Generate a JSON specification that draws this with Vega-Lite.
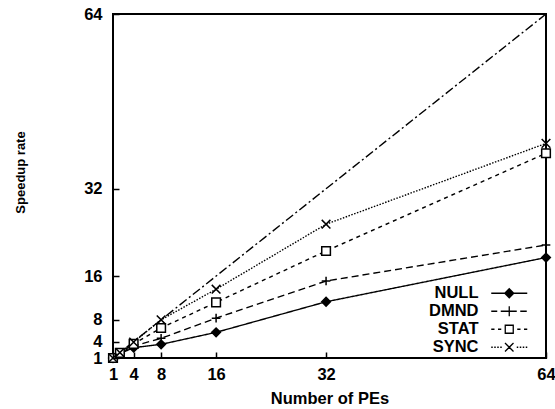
{
  "$schema": "https://vega.github.io/schema/vega-lite/v6.json",
  "width": 433,
  "height": 344,
  "autosize": {"type": "none"},
  "padding": {"left": 113, "top": 14, "right": 9, "bottom": 51},
  "background": "white",
  "datasets": {
    "ideal": [
      {"pes": 1, "speedup": 1},
      {"pes": 64, "speedup": 64}
    ],
    "runs": [
      {"scheme": "NULL", "pes": 1, "speedup": 1},
      {"scheme": "NULL", "pes": 2, "speedup": 1.8},
      {"scheme": "NULL", "pes": 4, "speedup": 2.9},
      {"scheme": "NULL", "pes": 8, "speedup": 3.5},
      {"scheme": "NULL", "pes": 16, "speedup": 5.7},
      {"scheme": "NULL", "pes": 32, "speedup": 11.3},
      {"scheme": "NULL", "pes": 64, "speedup": 19.4},
      {"scheme": "DMND", "pes": 1, "speedup": 1},
      {"scheme": "DMND", "pes": 2, "speedup": 1.9},
      {"scheme": "DMND", "pes": 4, "speedup": 3.2},
      {"scheme": "DMND", "pes": 8, "speedup": 4.6},
      {"scheme": "DMND", "pes": 16, "speedup": 8.3},
      {"scheme": "DMND", "pes": 32, "speedup": 15.1},
      {"scheme": "DMND", "pes": 64, "speedup": 21.7},
      {"scheme": "STAT", "pes": 1, "speedup": 1},
      {"scheme": "STAT", "pes": 2, "speedup": 1.95},
      {"scheme": "STAT", "pes": 4, "speedup": 3.6},
      {"scheme": "STAT", "pes": 8, "speedup": 6.5},
      {"scheme": "STAT", "pes": 16, "speedup": 11.2},
      {"scheme": "STAT", "pes": 32, "speedup": 20.6},
      {"scheme": "STAT", "pes": 64, "speedup": 38.5},
      {"scheme": "SYNC", "pes": 1, "speedup": 1},
      {"scheme": "SYNC", "pes": 2, "speedup": 2},
      {"scheme": "SYNC", "pes": 4, "speedup": 3.9},
      {"scheme": "SYNC", "pes": 8, "speedup": 8.0},
      {"scheme": "SYNC", "pes": 16, "speedup": 13.6},
      {"scheme": "SYNC", "pes": 32, "speedup": 25.5},
      {"scheme": "SYNC", "pes": 64, "speedup": 40.3}
    ]
  },
  "layer": [
    {
      "data": {"name": "ideal"},
      "mark": {"type": "line", "color": "black", "strokeWidth": 1.4, "strokeDash": [9, 3, 2, 3]},
      "encoding": {
        "x": {
          "field": "pes", "type": "quantitative",
          "scale": {"domain": [1, 64], "nice": false, "zero": false},
          "axis": {
            "orient": "bottom", "values": [1, 4, 8, 16, 32, 64],
            "ticks": true, "tickSize": -6, "tickColor": "black", "tickWidth": 1.5, "zindex": 3,
            "title": "Number of PEs", "titleFontSize": 16.5,
            "titleY": 40, "titleBaseline": "middle",
            "labelFontSize": 16.5, "labelPadding": 14.5, "labelBaseline": "top"
          }
        },
        "y": {
          "field": "speedup", "type": "quantitative",
          "scale": {"domain": [1, 64], "nice": false, "zero": false},
          "axis": {
            "orient": "left", "values": [1, 4, 8, 16, 32, 64],
            "ticks": true, "tickSize": -6, "tickColor": "black", "tickWidth": 1.5, "zindex": 3,
            "title": "Speedup rate", "titleFontSize": 13,
            "titleX": -93, "titleY": 158, "titleAngle": -90,
            "titleAlign": "center", "titleBaseline": "middle",
            "labelFontSize": 16.5, "labelPadding": 17
          }
        }
      }
    },
    {
      "data": {"name": "runs"},
      "mark": {"type": "line", "color": "black", "strokeWidth": 1.4},
      "encoding": {
        "x": {"field": "pes", "type": "quantitative"},
        "y": {"field": "speedup", "type": "quantitative"},
        "detail": {"field": "scheme"},
        "strokeDash": {
          "field": "scheme", "type": "nominal",
          "scale": {"domain": ["NULL", "DMND", "STAT", "SYNC"], "range": [[1, 0], [7, 4], [4, 4], [1.5, 1.5]]},
          "legend": null
        }
      }
    },
    {
      "data": {"name": "runs"},
      "mark": {"type": "point", "stroke": "black", "strokeWidth": 1.5, "opacity": 1},
      "encoding": {
        "x": {"field": "pes", "type": "quantitative"},
        "y": {"field": "speedup", "type": "quantitative"},
        "shape": {
          "field": "scheme", "type": "nominal",
          "scale": {
            "domain": ["NULL", "DMND", "STAT", "SYNC"],
            "range": ["diamond", "M-1,0H1M0,-1V1", "square", "M-1,-1L1,1M-1,1L1,-1"]
          },
          "legend": null
        },
        "fill": {
          "field": "scheme", "type": "nominal",
          "scale": {"domain": ["NULL", "DMND", "STAT", "SYNC"], "range": ["black", "transparent", "white", "transparent"]},
          "legend": null
        },
        "size": {"value": 75}
      }
    },
    {
      "data": {"name": "runs"},
      "mark": {"type": "point", "color": "black", "strokeWidth": 1.3, "size": 0, "filled": false},
      "encoding": {
        "x": {"field": "pes", "type": "quantitative"},
        "y": {"field": "speedup", "type": "quantitative"},
        "shape": {
          "field": "scheme", "type": "nominal",
          "scale": {
            "domain": ["NULL", "DMND", "STAT", "SYNC"],
            "range": [
              "M-3.6,0H3.6M0,-0.9L0.9,0L0,0.9L-0.9,0ZM0,-0.55L0.55,0L0,0.55L-0.55,0ZM0,-0.22L0.22,0L0,0.22L-0.22,0Z",
              "M-3.6,0H-2.4M-1.7,0H1.5M2.2,0H3.5M0,-1V1",
              "M-3.6,0H-2.95M-2.25,0H-1.6M-0.8,-0.8H0.8V0.8H-0.8ZM1.6,0H2.25M2.95,0H3.6",
              "M-3.6,0H-3.3M-3,0H-2.7M-2.4,0H-2.1M-1.8,0H-1.5M1.5,0H1.8M2.1,0H2.4M2.7,0H3M3.3,0H3.6M-0.85,-0.85L0.85,0.85M-0.85,0.85L0.85,-0.85"
            ]
          },
          "legend": {
            "orient": "none", "legendX": 388, "legendY": 271,
            "title": null, "padding": 0,
            "symbolSize": 100, "symbolStrokeWidth": 1.3,
            "symbolStrokeColor": "black", "symbolFillColor": "transparent", "symbolOpacity": 1,
            "labelFont": "Liberation Sans", "labelFontWeight": "bold", "labelFontSize": 16.5,
            "labelColor": "black", "labelAlign": "right", "labelOffset": -39,
            "rowPadding": 1
          }
        }
      }
    }
  ],
  "resolve": {
    "scale": {"shape": "independent"}
  },
  "config": {
    "view": {"stroke": "black", "strokeWidth": 2, "fill": "transparent"},
    "axis": {
      "domain": false, "grid": false,
      "labelOverlap": false, "labelFlush": false,
      "labelColor": "black", "titleColor": "black",
      "labelFont": "Liberation Sans", "titleFont": "Liberation Sans",
      "labelFontWeight": "bold", "titleFontWeight": "bold"
    }
  }
}
